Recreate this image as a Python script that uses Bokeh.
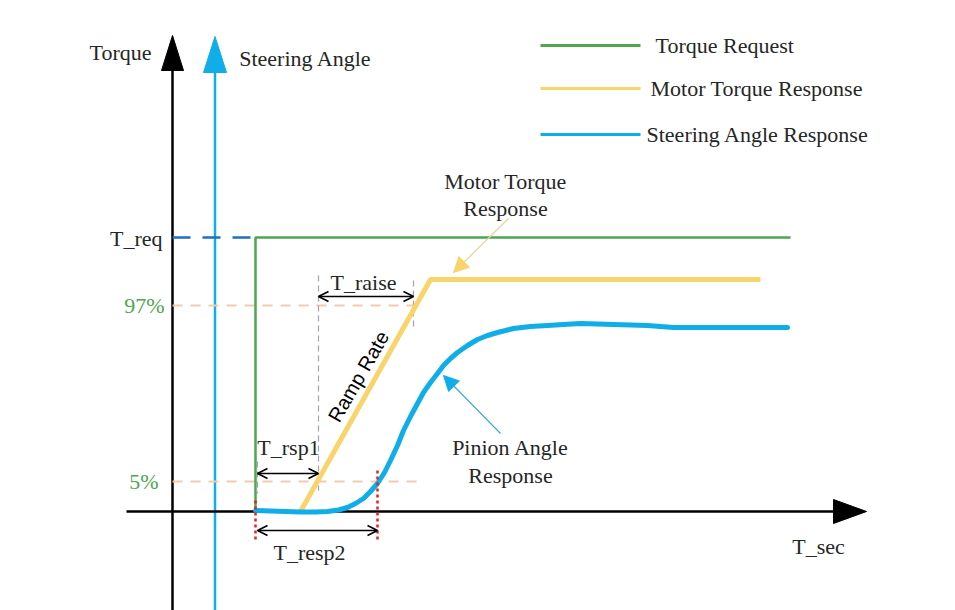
from bokeh.plotting import figure
from bokeh.models import Range1d, Arrow, NormalHead, OpenHead
from bokeh.core.properties import value
from bokeh.embed import file_html
from bokeh.resources import INLINE

# ---------------- data (schematic units: time along x, level along y) ----------------
# Torque request: step at t_step up to T_req
req_t = [83, 83, 618]
req_y = [0, 274, 274]
req_pre_t = [0, 83]          # dashed level before the step
req_level = 274

# Motor torque response: ramp then plateau
motor_t = [128, 258, 588]
motor_y = [0, 232, 232]

# Steering (pinion) angle response
steer_t = [83, 98, 113, 128, 143, 155, 166, 175, 183, 191, 198, 205, 212, 218, 225,
           231, 238, 245, 251, 258, 265, 271, 278, 285, 295, 305, 315, 325, 341,
           358, 375, 391, 408, 425, 441, 458, 475, 488, 501, 541, 615]
steer_y = [1, 0.5, 0, -0.5, -0.5, 0, 1.5, 4, 8, 13, 20, 28, 39, 51, 66,
           81, 95, 108, 119, 129, 138, 146, 153, 159, 166, 172, 176, 179, 183,
           185, 186, 187, 188, 187.5, 187, 186.5, 186, 185, 184, 184, 184]

# threshold levels
level_97 = 206
level_5 = 30
threshold_end = 248

# timing marks
t_step = 83
t_rsp1_end = 146
t_raise_end = 241
t_resp2_end = 205

legend_labels = ["Torque Request", "Motor Torque Response", "Steering Angle Response"]
level_labels = ["T_req", "97%", "5%"]

# ---------------- styles ----------------
GREEN = "#4ea64f"
YELLOW = "#f9d46a"
BLUE = "#10aee8"
DARKBLUE = "#1f6fc0"
PEACH = "#f1cbad"
GRAY = "#a3a3ab"
RED = "#e8201f"
TXT = "#262626"
SERIF = value("Liberation Serif")
FS = "22px"

p = figure(width=955, height=610, output_backend="svg", toolbar_location=None,
           x_range=Range1d(-172, 783), y_range=Range1d(-99, 511),
           min_border=0, min_border_left=0, min_border_right=0,
           min_border_top=0, min_border_bottom=0)
p.axis.visible = False
p.grid.visible = False
p.outline_line_color = None
p.background_fill_color = "white"
p.border_fill_color = "white"

# ---------------- axes drawn as arrows ----------------
p.line([0, 0], [-99, 445], line_color="black", line_width=2.5)
p.patch([-11, 11, 0], [441, 441, 476], fill_color="black", line_color="black")
p.line([42.5, 42.5], [-99, 443], line_color=BLUE, line_width=2.5)
p.patch([31, 54, 42.5], [439, 439, 475], fill_color=BLUE, line_color=BLUE)
p.line([-46, 665], [0, 0], line_color="black", line_width=2.5)
p.patch([661, 661, 694], [12, -12, 0], fill_color="black", line_color="black")

# ---------------- threshold dashed lines ----------------
p.line([0, threshold_end], [level_97, level_97], line_color=PEACH, line_width=2, line_dash="10 8")
p.line([0, threshold_end], [level_5, level_5], line_color=PEACH, line_width=2, line_dash="10 8")
p.line(req_pre_t, [req_level, req_level], line_color=DARKBLUE, line_width=2.5, line_dash="18 12")

# gray timing guides
p.line([t_rsp1_end, t_rsp1_end], [236, 21], line_color=GRAY, line_width=1.2, line_dash="6 4")
p.line([t_raise_end, t_raise_end], [231, 183], line_color=GRAY, line_width=1.2, line_dash="6 4")
p.line([t_step + 2, t_step + 2], [50, 18], line_color=GRAY, line_width=1.2, line_dash="6 4")

# ---------------- series ----------------
p.line(req_t, req_y, line_color=GREEN, line_width=2.5)
p.line(motor_t, motor_y, line_color=YELLOW, line_width=5)
p.line(steer_t, steer_y, line_color=BLUE, line_width=5, line_cap="round", line_join="round")

# red dotted markers
p.line([t_step, t_step], [11, -29], line_color=RED, line_width=2.5, line_dash="3 3")
p.line([t_resp2_end, t_resp2_end], [41, -29], line_color=RED, line_width=2.5, line_dash="3 3")

# ---------------- double arrows ----------------
def dbl(x0, x1, y):
    p.add_layout(Arrow(x_start=x0, y_start=y, x_end=x1, y_end=y,
                       line_color="black", line_width=1.6,
                       start=OpenHead(size=10, line_width=1.6, line_color="black"),
                       end=OpenHead(size=10, line_width=1.6, line_color="black")))

dbl(t_rsp1_end, t_raise_end, 215)
dbl(t_step + 2, t_rsp1_end, 38)
dbl(t_step + 2, t_resp2_end, -19)

# annotation arrows
p.add_layout(Arrow(x_start=336, y_start=293, x_end=281, y_end=239,
                   line_color="#e6d59c", line_width=1.3,
                   end=NormalHead(size=15, fill_color=YELLOW, line_color=YELLOW)))
p.add_layout(Arrow(x_start=328, y_start=78, x_end=271, y_end=136,
                   line_color="#3aa6d6", line_width=1.1,
                   end=NormalHead(size=15, fill_color=BLUE, line_color=BLUE)))

# ---------------- texts ----------------
def txt(x, y, s, align="center", color=TXT, size=FS, font=SERIF, angle=0):
    p.text(x=[x], y=[y], text=[s], text_font=font, text_font_size=size,
           text_align=align, text_baseline="middle", text_color=color,
           angle=angle, angle_units="deg")

txt(-52, 459, "Torque")
txt(133, 453, "Steering Angle")
txt(-10, 273, level_labels[0], align="right")
txt(-8, 206, level_labels[1], align="right", color=GREEN)
txt(-14, 30, level_labels[2], align="right", color=GREEN)
txt(191, 229, "T_raise")
txt(116, 64, "T_rsp1")
txt(137, -41, "T_resp2")
txt(646, -35, "T_sec")
txt(333, 330, "Motor Torque")
txt(333, 303, "Response")
txt(338, 64, "Pinion Angle")
txt(338, 36, "Response")
txt(186, 135, "Ramp Rate", font=value("Liberation Sans"), size="20px", color="black", angle=60)

# legend
leg_colors = [GREEN, YELLOW, BLUE]
leg_y = [466, 423, 377]
leg_text_x = [483, 478, 474]
for lbl, c, yy, tx in zip(legend_labels, leg_colors, leg_y, leg_text_x):
    p.line([368, 468], [yy, yy], line_color=c, line_width=3)
    txt(tx, yy, lbl, align="left")

open("out.html", "w").write(file_html(p, INLINE))
